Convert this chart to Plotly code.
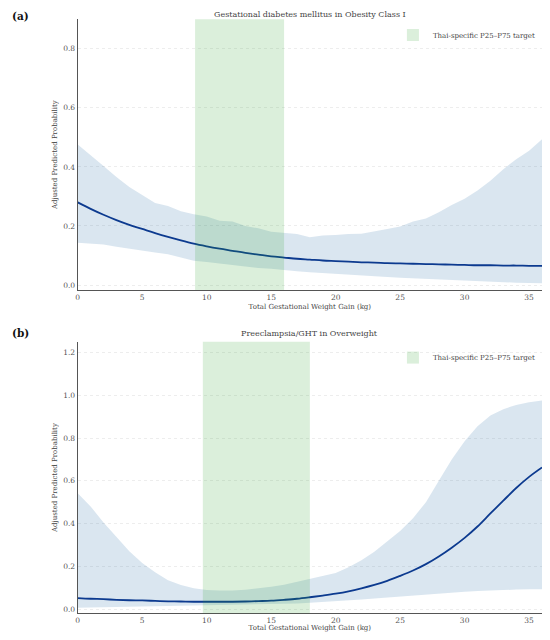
"""Adjusted predicted probability curves across total gestational weight gain."""

import plotly.graph_objects as go

# Total gestational weight gain grid (kg)
gwg_kg = list(range(0, 37))

# (a) Gestational diabetes mellitus in Obesity Class I
gdm_mean = [0.280, 0.258, 0.238, 0.220, 0.204, 0.190, 0.176, 0.163, 0.151, 0.140,
            0.131, 0.123, 0.116, 0.109, 0.103, 0.097, 0.093, 0.089, 0.086, 0.083,
            0.081, 0.079, 0.077, 0.076, 0.074, 0.073, 0.072, 0.071, 0.070, 0.069,
            0.068, 0.067, 0.067, 0.066, 0.066, 0.065, 0.065]
gdm_upper = [0.476, 0.438, 0.403, 0.366, 0.332, 0.305, 0.278, 0.268, 0.250, 0.240,
             0.232, 0.218, 0.215, 0.200, 0.192, 0.180, 0.176, 0.173, 0.162, 0.168,
             0.169, 0.173, 0.174, 0.181, 0.190, 0.198, 0.215, 0.225, 0.246, 0.271,
             0.292, 0.320, 0.353, 0.392, 0.426, 0.455, 0.494]
gdm_lower = [0.143, 0.141, 0.137, 0.130, 0.123, 0.115, 0.110, 0.104, 0.094, 0.082,
             0.078, 0.073, 0.068, 0.062, 0.058, 0.055, 0.052, 0.047, 0.043, 0.040,
             0.037, 0.034, 0.032, 0.030, 0.027, 0.025, 0.023, 0.021, 0.018, 0.016,
             0.015, 0.013, 0.011, 0.010, 0.008, 0.007, 0.006]
gdm_target = [9.1, 16.0]

# (b) Preeclampsia/GHT in Overweight
pe_mean = [0.051, 0.048, 0.046, 0.043, 0.041, 0.040, 0.038, 0.036, 0.035, 0.034,
           0.034, 0.034, 0.034, 0.035, 0.037, 0.039, 0.043, 0.048, 0.055, 0.063,
           0.072, 0.083, 0.097, 0.113, 0.132, 0.155, 0.180, 0.210, 0.246, 0.287,
           0.333, 0.386, 0.447, 0.507, 0.566, 0.618, 0.662]
pe_upper = [0.542, 0.480, 0.405, 0.338, 0.270, 0.215, 0.172, 0.135, 0.112, 0.097,
            0.089, 0.086, 0.086, 0.090, 0.096, 0.104, 0.114, 0.127, 0.141, 0.153,
            0.168, 0.195, 0.228, 0.268, 0.315, 0.365, 0.425, 0.500, 0.600, 0.700,
            0.785, 0.855, 0.905, 0.935, 0.955, 0.967, 0.975]
pe_lower = [0.006, 0.007, 0.008, 0.009, 0.010, 0.011, 0.012, 0.013, 0.014, 0.015,
            0.016, 0.017, 0.018, 0.019, 0.020, 0.022, 0.024, 0.026, 0.029, 0.032,
            0.036, 0.040, 0.044, 0.049, 0.054, 0.059, 0.064, 0.068, 0.072, 0.077,
            0.081, 0.084, 0.087, 0.089, 0.091, 0.092, 0.093]
pe_target = [9.7, 18.0]

FONT = "DejaVu Serif"
BAND = "rgba(70,130,180,0.2)"
LINE = "#0c3a8f"
TARGET = "rgba(44,160,44,0.17)"

fig = go.Figure()

panels = [
    ("x", "y", "legend", gdm_mean, gdm_upper, gdm_lower, gdm_target),
    ("x2", "y2", "legend2", pe_mean, pe_upper, pe_lower, pe_target),
]
for xa, ya, leg, mean, upper, lower, target in panels:
    fig.add_trace(go.Scatter(x=gwg_kg, y=lower, xaxis=xa, yaxis=ya, mode="lines",
                             line={"width": 0}, showlegend=False, hoverinfo="skip"))
    fig.add_trace(go.Scatter(x=gwg_kg, y=upper, xaxis=xa, yaxis=ya, mode="lines",
                             line={"width": 0}, fill="tonexty", fillcolor=BAND,
                             showlegend=False, hoverinfo="skip"))
    fig.add_trace(go.Scatter(x=gwg_kg, y=mean, xaxis=xa, yaxis=ya, mode="lines",
                             line={"color": LINE, "width": 1.8, "shape": "spline"},
                             showlegend=False))
    fig.add_shape(type="rect", xref=xa, yref=f"{ya} domain", x0=target[0], x1=target[1],
                  y0=0, y1=1, fillcolor=TARGET, line={"width": 0}, layer="above",
                  showlegend=True, legend=leg, name="Thai-specific P25–P75 target")

axis_common = dict(
    showline=True, linecolor="#555", linewidth=1.2, ticks="", zeroline=False,
    tickfont={"family": FONT, "size": 7.5, "color": "#555"},
    title_font={"family": FONT, "size": 7, "color": "#444"},
)
x_common = dict(axis_common, range=[0, 36], tickvals=[0, 5, 10, 15, 20, 25, 30, 35],
                showgrid=False, title_text="Total Gestational Weight Gain (kg)",
                title_standoff=2)
y_common = dict(axis_common, showgrid=True, gridcolor="#ededed", griddash="dot",
                gridwidth=0.7, tickformat=".1f", title_text="Adjusted Predicted Probability",
                title_standoff=4)

legend_common = dict(xanchor="right", yanchor="top", bgcolor="rgba(255,255,255,0)",
                     font={"family": FONT, "size": 7, "color": "#444"})

# the page adds an 8 px body margin, so the figure is 16 px smaller than the window
fig.update_layout(
    width=534, height=624,
    margin={"l": 0, "r": 0, "t": 0, "b": 0},
    plot_bgcolor="white", paper_bgcolor="white",
    font={"family": FONT},
    xaxis=dict(x_common, domain=[0.1273, 1.0], anchor="y"),
    yaxis=dict(y_common, domain=[0.548, 0.982], range=[-0.017, 0.9],
               tickvals=[0, 0.2, 0.4, 0.6, 0.8], anchor="x"),
    xaxis2=dict(x_common, domain=[0.1273, 1.0], anchor="y2"),
    yaxis2=dict(y_common, domain=[0.030, 0.465], range=[-0.02, 1.25],
                tickvals=[0, 0.2, 0.4, 0.6, 0.8, 1.0, 1.2], anchor="x2"),
    legend=dict(legend_common, x=0.998, y=0.980),
    legend2=dict(legend_common, x=0.998, y=0.463),
    annotations=[
        dict(text="<b>(a)</b>", x=0.0, y=1.0, xref="paper", yref="paper",
             xanchor="left", yanchor="top", showarrow=False,
             font={"family": FONT, "size": 10.5, "color": "#111"}),
        dict(text="Gestational diabetes mellitus in Obesity Class I", x=0.5637, y=1.0,
             xref="paper", yref="paper", xanchor="center", yanchor="top",
             showarrow=False, font={"family": FONT, "size": 8, "color": "#444"}),
        dict(text="<b>(b)</b>", x=0.0, y=0.479, xref="paper", yref="paper",
             xanchor="left", yanchor="middle", showarrow=False,
             font={"family": FONT, "size": 10.5, "color": "#111"}),
        dict(text="Preeclampsia/GHT in Overweight", x=0.5637, y=0.479,
             xref="paper", yref="paper", xanchor="center", yanchor="middle",
             showarrow=False, font={"family": FONT, "size": 8, "color": "#444"}),
    ],
)

fig.write_html("out.html")
